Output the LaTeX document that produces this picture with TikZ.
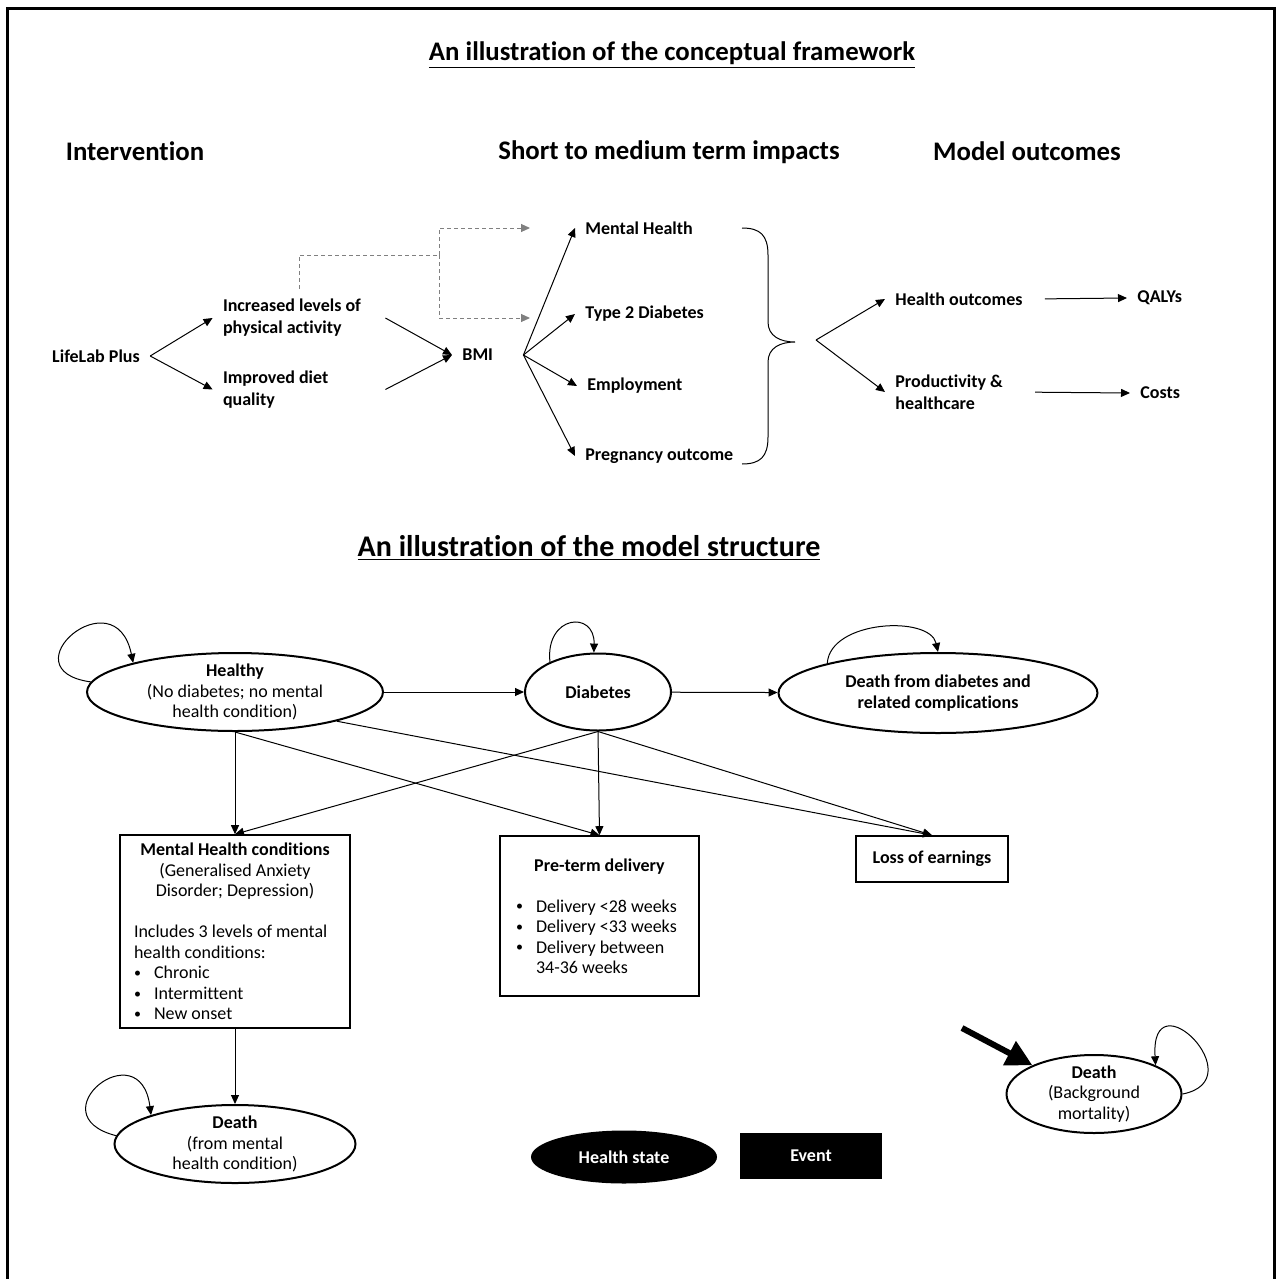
\documentclass[tikz,border=0pt]{standalone}
\usepackage{fontspec}
\setmainfont{Carlito}[Ligatures=CommonOff]
\usetikzlibrary{arrows.meta,shapes.geometric}
\newcommand{\bul}{\makebox[10pt][l]{\raisebox{0.6pt}{\fontsize{7}{7}\selectfont\textbullet}}}
\begin{document}
\begin{tikzpicture}[x=0.5pt,y=-0.5pt,
  txt/.style={font=\fontsize{9}{11}\selectfont\bfseries, inner sep=5pt},
  head/.style={font=\fontsize{13.4}{16}\selectfont\bfseries},
  arr/.style={line width=0.5pt, -{Triangle[length=4.5pt,width=4pt]}},
  dashline/.style={line width=0.5pt, gray, dash pattern=on 2pt off 1.5pt},
  dasharr/.style={dashline, -{Triangle[length=4.5pt,width=4pt]}},
  state/.style={ellipse, draw, line width=1pt, inner xsep=0pt, inner ysep=-4pt, align=center, font=\fontsize{9}{10.25}\selectfont},
  eventbox/.style={draw, line width=0.8pt, font=\fontsize{9}{10.25}\selectfont},
  bigarr/.style={line width=3pt, -{Triangle[length=13pt,width=13pt]}}]
\useasboundingbox (0,0) rectangle (1277,1279);
\draw[line width=1.5pt] (7.5,1279) -- (7.5,8.5) -- (1274,8.5) -- (1274,1279);
% conceptual framework
\node[head] (title1) at (672,55) {\underline{An illustration of the conceptual framework}};
\node[head] (hint) at (135,151) {Intervention};
\node[head] (himp) at (669,152) {Short to medium term impacts};
\node[head] (hmod) at (1027,151) {Model outcomes};
\node[txt] (lifelab) at (96,356) {LifeLab Plus};
\node[txt, text width=76pt, align=flush left] (inc) at (299,318) {Increased levels of\\physical activity};
\node[txt, text width=76pt, align=flush left] (diet) at (299,389.5) {Improved diet\\quality};
\node[txt, anchor=west] (bmi) at (452,355) {BMI};
\node[txt, anchor=west] (mh) at (575,228) {Mental Health};
\node[txt, anchor=west] (t2d) at (575,314) {Type 2 Diabetes};
\node[txt, anchor=west] (emp) at (577,386) {Employment};
\node[txt, anchor=west] (preg) at (575,456) {Pregnancy outcome};
\node[txt, anchor=west] (hout) at (885,299) {Health outcomes};
\node[txt, anchor=west, align=left] (prod) at (885,392) {Productivity \&\\healthcare};
\node[txt, anchor=west] (qaly) at (1127,298) {QALYs};
\node[txt, anchor=west] (costs) at (1130,393) {Costs};
\draw[arr] (lifelab.east) -- (inc.west);
\draw[arr] (lifelab.east) -- (diet.west);
\draw[arr] (inc.east) -- (bmi.west);
\draw[arr] (diet.east) -- (bmi.west);
\coordinate (bmifan) at ([xshift=10pt]bmi.east);
\foreach \n in {mh,t2d,emp,preg} \draw[arr] (bmifan) -- (\n.west);
\coordinate (dsplit) at (439,255);
\coordinate (dtop) at (530,228);
\coordinate (dbot) at (530,318);
\draw[dashline] (inc.north) |- (dsplit);
\draw[dasharr] (dsplit) |- (dtop);
\draw[dasharr] (dsplit) |- (dbot);
\draw[line width=0.5pt] (742,228) .. controls (760,228) and (768,235) .. (768,255) -- (768,322)
  .. controls (768,336) and (780,342) .. (795,342) .. controls (780,342) and (768,348) .. (768,362)
  -- (768,437) .. controls (768,457) and (760,464) .. (742,464);
\coordinate (outfan) at (816,340);
\draw[arr] (outfan) -- (hout.west);
\draw[arr] (outfan) -- (prod.west);
\draw[arr, shorten <=6pt] (hout.east) -- (qaly.west);
\draw[arr, shorten <=11pt] (prod.east) -- (costs.west);
% model structure
\node[font=\fontsize{15}{18}\selectfont\bfseries] (title2) at (589,548) {\underline{An illustration of the model structure}};
\node[state, minimum width=148pt, minimum height=39pt] (healthy) at (235,692) {\textbf{Healthy}\\(No diabetes; no mental\\health condition)};
\node[state, minimum width=73pt, minimum height=38.5pt] (diab) at (598,692) {\textbf{Diabetes}};
\node[state, minimum width=159.5pt, minimum height=40pt] (deathdiab) at (938,693) {\textbf{Death from diabetes and}\\\textbf{related complications}};
\node[eventbox, inner xsep=7pt, text width=101pt, minimum height=96.5pt, align=flush left] (mhbox) at (235,931.5)
  {{\centering\textbf{Mental Health conditions}\\(Generalised Anxiety\\Disorder; Depression)\par}
   \vspace{10.25pt}Includes 3 levels of mental\\health conditions:\\
   \bul Chronic\\\bul Intermittent\\\bul New onset};
\node[eventbox, inner xsep=8pt, text width=83.5pt, minimum height=80pt, align=flush left] (preterm) at (599.5,916)
  {{\centering\textbf{Pre-term delivery}\par}
   \vspace{10.25pt}\bul Delivery <28 weeks\\\bul Delivery <33 weeks\\
   \bul Delivery between\\\hspace*{10pt}34-36 weeks};
\node[eventbox, minimum width=76pt, minimum height=23pt] (loss) at (932,859) {\textbf{Loss of earnings}};
\node[state, minimum width=120.5pt, minimum height=39pt] (deathmh) at (235,1144) {\textbf{Death}\\(from mental\\health condition)};
\node[state, minimum width=87.5pt, minimum height=39pt] (deathbg) at (1094,1094) {\textbf{Death}\\(Background\\mortality)};
\node[ellipse, fill=black, text=white, font=\fontsize{9}{11}\selectfont\bfseries, minimum width=93pt, minimum height=26.5pt] (lghealth) at (624,1157) {Health state};
\node[fill=black, text=white, font=\fontsize{9}{11}\selectfont\bfseries, minimum width=71pt, minimum height=23pt] (lgevent) at (811,1156) {Event};
\draw[arr] (healthy) -- (diab);
\draw[arr] (diab) -- (deathdiab);
\draw[arr] (healthy.south) -- (mhbox.north);
\draw[arr] (healthy.south) -- (preterm.north);
\draw[arr] (healthy.-16) -- (loss.north);
\draw[arr] (diab.south) -- (mhbox.north);
\draw[arr] (diab.south) -- (preterm.north);
\draw[arr] (diab.south) -- (loss.north);
\draw[arr] (mhbox.south) -- (deathmh.north);
\draw[arr] (healthy.176) .. controls (5,670) and (115,575) .. (healthy.164);
\draw[arr] (diab.148) .. controls (545,615) and (595,610) .. (diab.96);
\draw[arr] (deathdiab.165) .. controls (830,620) and (930,615) .. (deathdiab.north);
\draw[arr] (deathmh.176) .. controls (35,1115) and (140,1030) .. (deathmh.161);
\draw[arr] (deathbg.east) .. controls (1255,1080) and (1150,975) .. (deathbg.25);
\coordinate (bigtail) at (962,1028);
\draw[bigarr] (bigtail) -- (deathbg.155);
\end{tikzpicture}
\end{document}
